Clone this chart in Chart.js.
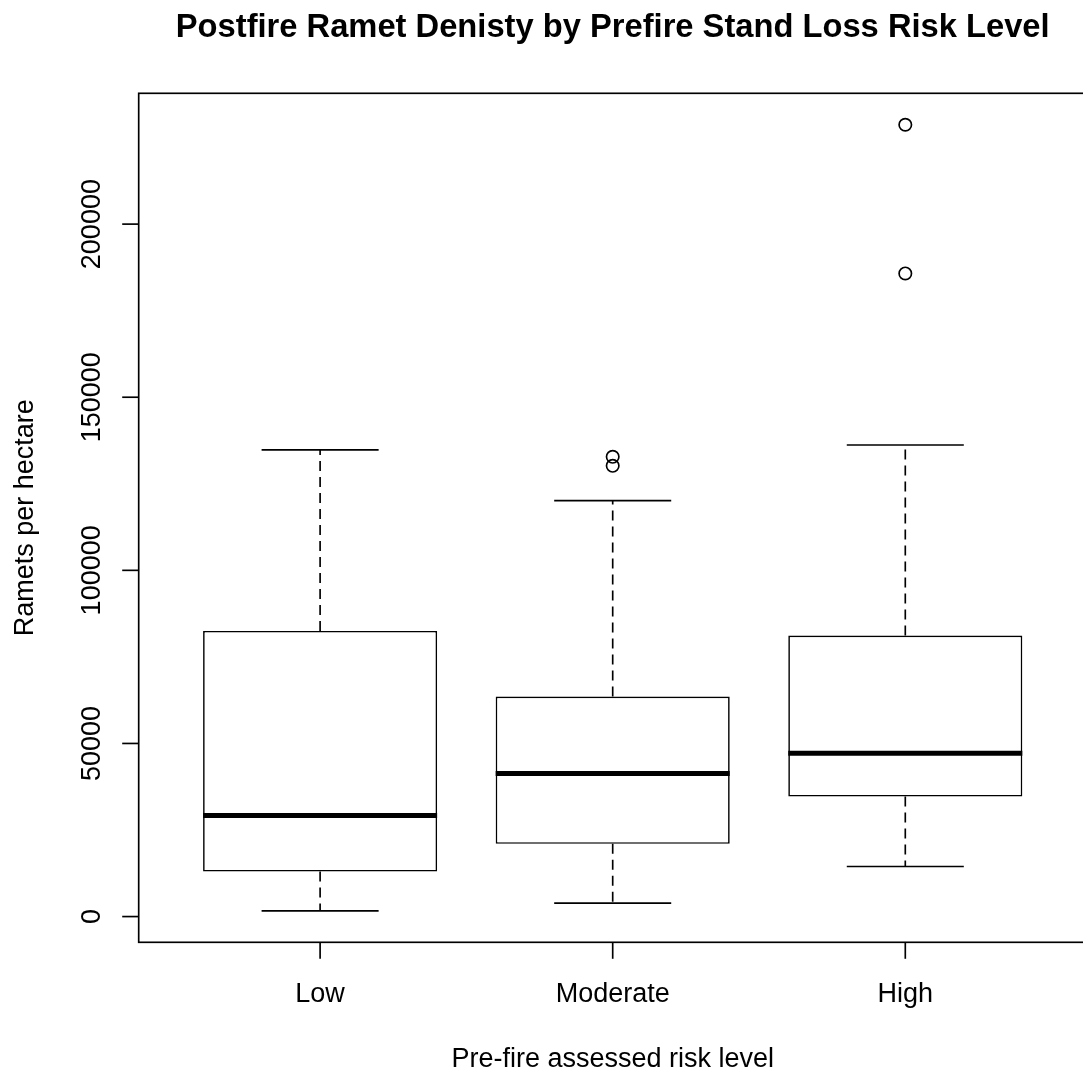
<!DOCTYPE html>
<html>
<head>
<meta charset="utf-8">
<title>Postfire Ramet Density</title>
<script src="https://cdn.jsdelivr.net/npm/chart.js@4.4.1/dist/chart.umd.min.js"></script>
<style>
    html, body { margin: 0; padding: 0; background: #fff; overflow: hidden; }
    canvas { display: block; }
</style>
</head>
<body>
<canvas id="boxChart" width="1090" height="1072"></canvas>
<script>
// Box statistics per risk level (ramets per hectare)
const riskLevels = ["Low", "Moderate", "High"];
const whiskerLow = [1650, 3870, 14450];
const quartile1 = [13000, 21000, 34650];
const medians = [29200, 41300, 47200];
const quartile3 = [82500, 63550, 81150];
const whiskerHigh = [134800, 120150, 136200];

// Points beyond the whiskers: group index (1-based) and value
const outlierGroup = [2, 2, 3, 3];
const outlierValues = [132800, 130200, 185750, 228700];

const yTicks = [0, 50000, 100000, 150000, 200000];

const titleText = "Postfire Ramet Denisty by Prefire Stand Loss Risk Level";
const xTitle = "Pre-fire assessed risk level";
const yTitle = "Ramets per hectare";

const FONT = "'Liberation Sans', Arial, Helvetica, sans-serif";
const LW = 1.67;
const positions = riskLevels.map((_, i) => i + 1);

// axis ranges padded 4% like base graphics
const lo = Math.min(...whiskerLow, ...outlierValues);
const hi = Math.max(...whiskerHigh, ...outlierValues);
const yPad = 0.04 * (hi - lo);
const xPad = 0.04 * riskLevels.length;

// whiskers, caps and medians as broken line paths (null = gap)
const whiskerPts = [];
const capPts = [];
const medianPts = [];
positions.forEach((x, i) => {
    whiskerPts.push({ x: x, y: quartile3[i] }, { x: x, y: whiskerHigh[i] }, { x: x, y: null });
    whiskerPts.push({ x: x, y: quartile1[i] }, { x: x, y: whiskerLow[i] }, { x: x, y: null });
    capPts.push({ x: x - 0.2, y: whiskerHigh[i] }, { x: x + 0.2, y: whiskerHigh[i] }, { x: x, y: null });
    capPts.push({ x: x - 0.2, y: whiskerLow[i] }, { x: x + 0.2, y: whiskerLow[i] }, { x: x, y: null });
    medianPts.push({ x: x - 0.4, y: medians[i] }, { x: x + 0.4, y: medians[i] }, { x: x, y: null });
});

// frame, ticks, tick labels and titles drawn from the scales
const frameAxes = {
    id: "frameAxes",
    afterDraw(chart) {
        const { ctx, chartArea: a, scales } = chart;
        const xs = scales.x, ys = scales.y;
        const midX = (a.left + a.right) / 2;
        const midY = (a.top + a.bottom) / 2;
        ctx.save();
        ctx.strokeStyle = "#000";
        ctx.fillStyle = "#000";
        ctx.lineWidth = LW;
        ctx.strokeRect(a.left, a.top, a.right - a.left, a.bottom - a.top);

        ctx.font = "27px " + FONT;
        ctx.textAlign = "center";
        ctx.textBaseline = "alphabetic";

        yTicks.forEach(v => {
            const py = ys.getPixelForValue(v);
            ctx.beginPath();
            ctx.moveTo(a.left, py);
            ctx.lineTo(a.left - 16.5, py);
            ctx.stroke();
            ctx.save();
            ctx.translate(a.left - 38.5, py);
            ctx.rotate(-Math.PI / 2);
            ctx.fillText(String(v), 0, 0);
            ctx.restore();
        });

        positions.forEach((x, i) => {
            const px = xs.getPixelForValue(x);
            ctx.beginPath();
            ctx.moveTo(px, a.bottom);
            ctx.lineTo(px, a.bottom + 16.5);
            ctx.stroke();
            ctx.fillText(riskLevels[i], px, a.bottom + 59.6);
        });

        ctx.fillText(xTitle, midX, a.bottom + 125);

        ctx.save();
        ctx.translate(a.left - 105.4, midY);
        ctx.rotate(-Math.PI / 2);
        ctx.fillText(yTitle, 0, 0);
        ctx.restore();

        ctx.font = "bold 32.7px " + FONT;
        ctx.fillText(titleText, midX, 37.3);
        ctx.restore();
    }
};

new Chart(document.getElementById("boxChart"), {
    type: "bar",
    data: {
        datasets: [
            {
                type: "bar",
                order: 3,
                data: positions.map((x, i) => ({ x: x, y: [quartile1[i], quartile3[i]] })),
                backgroundColor: "#ffffff",
                borderColor: "#000000",
                borderWidth: LW,
                borderSkipped: false,
                categoryPercentage: 1,
                barPercentage: 0.8
            },
            {
                type: "line",
                order: 2,
                data: whiskerPts,
                borderColor: "#000000",
                borderWidth: LW,
                borderDash: [10, 6],
                pointRadius: 0,
                spanGaps: false,
                fill: false
            },
            {
                type: "line",
                order: 2,
                data: capPts,
                borderColor: "#000000",
                borderWidth: LW,
                pointRadius: 0,
                spanGaps: false,
                fill: false
            },
            {
                type: "line",
                order: 1,
                data: medianPts,
                borderColor: "#000000",
                borderWidth: 5,
                borderCapStyle: "butt",
                pointRadius: 0,
                spanGaps: false,
                fill: false
            },
            {
                type: "scatter",
                order: 0,
                data: outlierValues.map((v, i) => ({ x: outlierGroup[i], y: v })),
                pointStyle: "circle",
                pointRadius: 6.2,
                pointBorderWidth: LW,
                pointBorderColor: "#000000",
                pointBackgroundColor: "rgba(0,0,0,0)"
            }
        ]
    },
    options: {
        responsive: false,
        animation: false,
        events: [],
        layout: {
            // canvas is a little wider than the window, so the right
            // edge of the plot region falls just outside the view
            autoPadding: false,
            padding: { left: 138.7, top: 93.3, right: 3.3, bottom: 129.7 }
        },
        plugins: {
            legend: { display: false },
            tooltip: { enabled: false }
        },
        scales: {
            x: {
                type: "linear",
                display: false,
                offset: false,
                min: 0.5 - xPad,
                max: riskLevels.length + 0.5 + xPad,
                afterBuildTicks: axis => {
                    axis.ticks = positions.map(v => ({ value: v }));
                }
            },
            y: {
                type: "linear",
                display: false,
                min: lo - yPad,
                max: hi + yPad
            }
        }
    },
    plugins: [frameAxes]
});
</script>
</body>
</html>
